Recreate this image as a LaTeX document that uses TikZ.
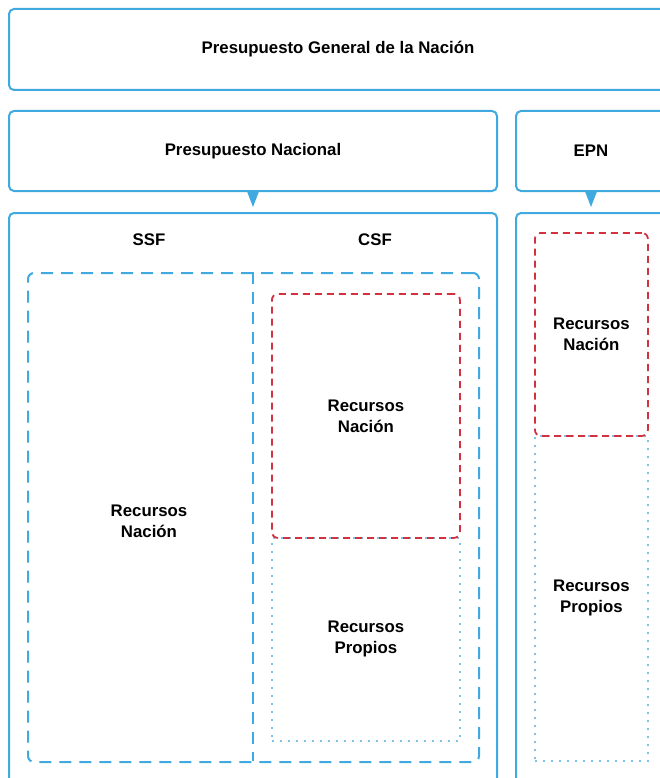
\documentclass[tikz,border=0pt]{standalone}
\usepackage{fontspec}
\setmainfont{Liberation Sans}
\usetikzlibrary{arrows.meta}
\definecolor{boxblue}{HTML}{3FA9E0}
\definecolor{recred}{HTML}{D2313F}
\definecolor{dotblue}{HTML}{7CC4EC}

\begin{document}
\begin{tikzpicture}[x=1pt,y=-1pt,
  box/.style={draw=boxblue,line width=2pt,rounded corners=5pt,anchor=north west,inner sep=0pt},
  groupline/.style={draw=boxblue,line width=2pt,dash pattern=on 12pt off 8pt},
  groupbox/.style={groupline,rounded corners=6pt,anchor=north west,inner sep=0pt},
  nacbox/.style={draw=recred,line width=1.8pt,rounded corners=6pt,dash pattern=on 7pt off 5pt,anchor=north west,inner sep=0pt},
  propbox/.style={draw=dotblue,line width=1.8pt,dash pattern=on 1.8pt off 6.2pt,anchor=north west,inner sep=0pt},
  lbl/.style={font=\fontsize{16.8}{21}\selectfont\bfseries,align=center},
  tip/.style={draw=boxblue,line width=1pt,-{Triangle[length=16pt,width=12pt]},shorten >=5pt}]
\clip (0,0) rectangle (660,778);
\node[box,minimum width=658pt,minimum height=81pt,lbl] (pgn) at (8,8) {Presupuesto General de la Nación};
\node[box,minimum width=488pt,minimum height=80pt,lbl] (pn) at (8,110) {Presupuesto Nacional};
\node[box,minimum width=150pt,minimum height=80pt,lbl] (epn) at (515,110) {EPN};
\node[box,minimum width=488pt,minimum height=620pt] (pnbody) at (8,212) {};
\node[box,minimum width=150pt,minimum height=620pt] (epnbody) at (515,212) {};
\draw[tip] (pn.south) -- (pnbody.north);
\draw[tip] (epn.south) -- (epnbody.north);
\node[lbl] (ssf) at (149,240) {SSF};
\node[lbl] (csf) at (375,240) {CSF};
\node[groupbox,minimum width=451pt,minimum height=489pt] (fuentes) at (27,272) {};
\coordinate (divtop) at (253,272);
\coordinate (divbot) at (253,761);
\draw[groupline] (divtop) -- (divbot);
\node[lbl] (ssfnac) at (149,521) {Recursos\\Nación};
\node[propbox,minimum width=188pt,minimum height=203pt,lbl] (csfprop) at (271,537) {Recursos\\Propios};
\node[nacbox,minimum width=188pt,minimum height=244pt,lbl] (csfnac) at (271,293) {Recursos\\Nación};
\node[propbox,minimum width=113pt,minimum height=325pt,lbl] (epnprop) at (534,435) {Recursos\\Propios};
\node[nacbox,minimum width=113pt,minimum height=203pt,lbl] (epnnac) at (534,232) {Recursos\\Nación};
\end{tikzpicture}
\end{document}
